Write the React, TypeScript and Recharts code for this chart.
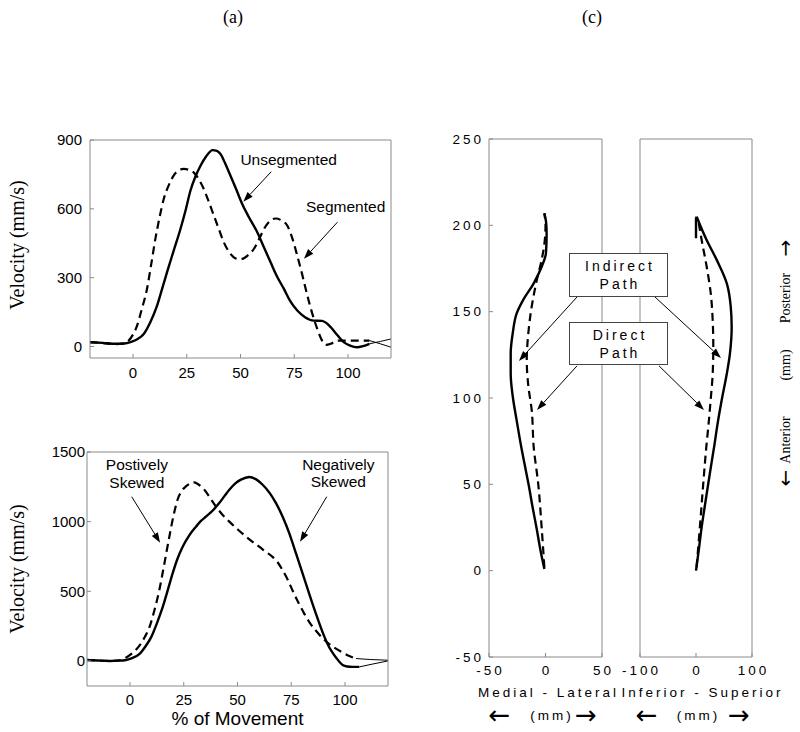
import React from "react";
import { LineChart, Line, XAxis, YAxis, ReferenceLine, ReferenceDot } from "recharts";

const SANS = "'Liberation Sans', Arial, sans-serif";
const SERIF = "'Liberation Serif', 'Times New Roman', serif";
const ARROWS = "'DejaVu Sans', sans-serif";
const AXIS = "#8a8a8a";

type Pt = [number, number];

// (a) top panel: % of movement -> velocity (mm/s)
const unsegmented: Pt[] = [
  [-20, 19], [-14, 16], [-8, 12], [-4, 13], [-1, 20], [2, 32], [5, 55], [8, 105], [11.2, 178],
  [13.5, 250], [15.8, 323], [19, 420], [22, 510], [24.5, 595], [26.7, 679], [29, 740], [31.4, 788],
  [34, 828], [37, 856], [39, 853], [40.7, 839], [43, 795], [45.3, 745], [48, 685], [50.8, 621],
  [54, 562], [57.8, 498], [61, 430], [64, 367], [67, 305], [70.2, 251], [73, 200], [76.4, 157],
  [80, 128], [84, 113], [88, 112], [90, 102], [92, 84], [95, 50], [98, 19], [101, 4], [104, -3],
  [107, 2], [110, 12],
];
const segmented: Pt[] = [
  [-20, 19], [-14, 15], [-8, 10], [-4, 14], [-2, 26], [0, 52], [1.9, 91], [4, 160], [6.5, 251],
  [8.5, 360], [10.4, 469], [12.4, 565], [14.3, 643], [16.5, 700], [18.9, 745], [21, 766], [23.6, 774],
  [26, 770], [28.2, 759], [30.5, 730], [32.9, 687], [35.2, 632], [37.6, 571], [40, 510], [42.2, 455],
  [44.5, 415], [46.9, 389], [49, 381], [50.8, 382], [53.5, 398], [56.2, 425], [58.5, 465], [60.9, 512],
  [63.5, 545], [66.3, 558], [69, 550], [71.8, 526], [74, 475], [76.4, 396], [78.8, 310], [81.1, 222],
  [83.5, 140], [85.7, 77], [87.7, 30], [89.7, 7], [92, 12], [95, 26], [102, 26], [110, 26],
];
const unsegTail: Pt[] = [[110, 12], [115, 22], [120, 33]];
const segTail: Pt[] = [[110, 26], [115, 12], [120, -3]];

// (a) bottom panel
const negSkewed: Pt[] = [
  [-20, 7], [-15, 3], [-9.6, 0], [-5, 2], [-1.9, 7], [1, 20], [4.3, 48], [7, 100], [9.8, 169],
  [12.5, 270], [15.2, 386], [17.5, 505], [19.8, 627], [22, 730], [24.5, 820], [27.5, 900], [30.7, 964],
  [33, 1005], [35.3, 1036], [38.5, 1080], [41.5, 1133], [44, 1185], [46.2, 1229], [49, 1275],
  [51.6, 1302], [55.5, 1321], [58.5, 1305], [61.7, 1265], [65, 1205], [67.9, 1133], [71, 1035],
  [74.1, 916], [77.2, 772], [80.3, 627], [83.4, 480], [86.5, 338], [89.6, 205], [92.7, 96],
  [95.8, 25], [98.9, -29], [101, -40], [103.5, -43], [106.6, -43],
];
const posSkewed: Pt[] = [
  [-20, 7], [-15, 3], [-9.6, 0], [-5, 4], [-1.9, 24], [1, 55], [4.3, 108], [7, 175], [9, 241],
  [11.3, 360], [13.6, 506], [16, 700], [18.3, 892], [20.2, 1040], [22.1, 1157], [24, 1220], [26, 1253],
  [28, 1275], [29.9, 1282], [32, 1265], [34.6, 1229], [37.3, 1170], [40, 1108], [43, 1050], [46.2, 1000],
  [50, 945], [54, 892], [57, 855], [60.1, 820], [63, 785], [66.3, 747], [68.8, 705], [71, 651],
  [73.3, 585], [75.6, 506], [78.3, 420], [81.1, 338], [83.8, 270], [86.5, 217], [89.6, 163],
  [92.7, 121], [95.8, 88], [98.9, 60], [102, 36], [105.1, 17],
];
const negTail: Pt[] = [[106.6, -43], [113, -22], [120, 0]];
const posTail: Pt[] = [[105.1, 17], [112, 10], [120, 5]];

// (c) hand paths: [medial-lateral or inferior-superior mm, anterior-posterior mm]
const mlIndirect: Pt[] = [
  [-1, 1], [-4.5, 12], [-8, 25], [-11.5, 37], [-15, 50], [-18, 60], [-21, 70], [-25.5, 87], [-29, 101],
  [-30.8, 114], [-30.8, 126], [-29, 137.5], [-25.5, 149], [-19.6, 157], [-10.8, 166], [-3.4, 176],
  [0.4, 184], [1, 195], [0.5, 202], [-1, 207],
];
const mlDirect: Pt[] = [
  [-1, 2], [-3.4, 25], [-6.4, 50], [-10.5, 72], [-12.2, 93], [-15.2, 107], [-16.6, 122], [-15.2, 137.5],
  [-12.2, 153], [-7.8, 168], [-3.4, 180], [-0.4, 193], [0, 200], [-1, 207],
];
const isIndirect: Pt[] = [
  [0, 0], [5, 12], [10.2, 25.5], [16, 38], [22, 50.6], [28, 63], [33, 73], [38, 84], [46, 99],
  [55, 114], [60.7, 126], [63.7, 141], [62, 153], [55, 166.4], [37, 180], [19, 191.5], [1.2, 205],
];
const isHook: Pt[] = [[0, 192.5], [0, 204], [1.2, 205]];
const isDirect: Pt[] = [
  [1, 2], [7, 25.5], [13, 50.6], [18.5, 72], [22, 83.4], [26.2, 99], [29.8, 114], [30.9, 130],
  [29.8, 145], [26.2, 161], [19.1, 176], [10.1, 191.5], [4, 203],
];

const pctTicks = [0, 25, 50, 75, 100];
const velTicksTop = [0, 300, 600, 900];
const velTicksBottom = [0, 500, 1000, 1500];
const apTicks = [-50, 0, 50, 100, 150, 200, 250];
const mlTicks = [-50, 0, 50];
const isTicks = [-100, 0, 100];

const rows = (pts: Pt[]) => pts.map(([x, y]) => ({ x, y }));

const arrowShape = (p: any) => {
  const { x1, y1, x2, y2 } = p;
  const a = Math.atan2(y2 - y1, x2 - x1);
  const bx = x2 - 10 * Math.cos(a);
  const by = y2 - 10 * Math.sin(a);
  const w = 3.5;
  const pts = `${x2},${y2} ${bx - w * Math.sin(a)},${by + w * Math.cos(a)} ${bx + w * Math.sin(a)},${by - w * Math.cos(a)}`;
  return (
    <g>
      <line x1={x1} y1={y1} x2={bx} y2={by} stroke="#000" strokeWidth={1} />
      <polygon points={pts} fill="#000" />
    </g>
  );
};

const note = (lines: string[]) => (p: any) => (
  <text x={p.cx} y={p.cy} textAnchor="middle" fontFamily={SANS} fontSize={15.5} fill="#000">
    {lines.map((l, i) => (
      <tspan key={i} x={p.cx} dy={i === 0 ? `${0.35 - (lines.length - 1) * 0.565}em` : "1.13em"}>
        {l}
      </tspan>
    ))}
  </text>
);

const spacedTick = (anchor: "end" | "middle") => (p: any) => (
  <text x={p.x + (anchor === "end" ? 3 : 1.5)} y={p.y} dy={anchor === "end" ? "0.35em" : "0.71em"}
    textAnchor={anchor} fontFamily={SANS} fontSize={13.5} letterSpacing={3} fill="#000">
    {p.payload.value}
  </text>
);

const mmLabel = (title: string, cx: number, pos: [number, number, number]) => (p: any) => {
  const { x, y } = p.viewBox;
  return (
    <g fill="#000">
      <text x={x + cx + 1.5} y={y + 35} textAnchor="middle" dominantBaseline="central" fontFamily={SANS}
        fontSize={13.5} letterSpacing={3}>
        {title}
      </text>
      <text x={x + pos[0]} y={y + 58} textAnchor="middle" dominantBaseline="central" fontFamily={ARROWS} fontSize={26}>←</text>
      <text x={x + pos[1] + 1.5} y={y + 58} textAnchor="middle" dominantBaseline="central" fontFamily={SANS}
        fontSize={13.5} letterSpacing={3}>
        (mm)
      </text>
      <text x={x + pos[2]} y={y + 58} textAnchor="middle" dominantBaseline="central" fontFamily={ARROWS} fontSize={26}>→</text>
    </g>
  );
};

const apLabel = (p: any) => {
  const { x, y } = p.viewBox;
  const cx = x + 33;
  const parts: [string, number, string, number][] = [
    ["→", 109, ARROWS, 20], ["Posterior", 159, SERIF, 14], ["(mm)", 226, SERIF, 14],
    ["Anterior", 301, SERIF, 14], ["←", 339, ARROWS, 20],
  ];
  return (
    <g fill="#000">
      {parts.map(([t, dy, ff, fs]) => (
        <text key={t} x={cx} y={y + dy} fontFamily={ff} fontSize={fs} textAnchor="middle" dominantBaseline="central"
          transform={`rotate(-90 ${cx} ${y + dy})`}>
          {t}
        </text>
      ))}
    </g>
  );
};

const velTick = { fontSize: 15, fill: "#000", fontFamily: SANS };

function solid(pts: Pt[], type: any = "monotone") {
  return <Line data={rows(pts)} dataKey="y" type={type} stroke="#000" strokeWidth={2.4} dot={false} isAnimationActive={false} />;
}
function dashed(pts: Pt[], type: any = "monotone") {
  return (
    <Line data={rows(pts)} dataKey="y" type={type} stroke="#000" strokeWidth={2.2} strokeDasharray="8 5"
      dot={false} isAnimationActive={false} />
  );
}
function thin(pts: Pt[]) {
  return <Line data={rows(pts)} dataKey="y" type="linear" stroke="#000" strokeWidth={1} dot={false} isAnimationActive={false} />;
}

function TopVelocity() {
  return (
    <LineChart width={400} height={280} margin={{ top: 19, right: 0, bottom: 0, left: 0 }}>
      <XAxis dataKey="x" type="number" domain={[-20, 120]} ticks={pctTicks} allowDataOverflow height={42}
        stroke={AXIS} tickSize={-4} tickMargin={13} tick={velTick} />
      <XAxis xAxisId="t" orientation="top" dataKey="x" type="number" domain={[-20, 120]} ticks={pctTicks}
        height={1} stroke={AXIS} tickSize={-4} tick={false} />
      <YAxis type="number" domain={[-50, 900]} ticks={velTicksTop} allowDataOverflow width={90}
        stroke={AXIS} tickSize={-4} tickMargin={12} tick={velTick} />
      <YAxis yAxisId="r" orientation="right" type="number" domain={[-50, 900]} ticks={velTicksTop} width={9}
        stroke={AXIS} tickSize={-4} tick={false} />
      {dashed(segmented)}
      {solid(unsegmented)}
      {thin(unsegTail)}
      {thin(segTail)}
      <ReferenceLine segment={[{ x: 64.3, y: 762 }, { x: 51.3, y: 631 }]} shape={arrowShape} ifOverflow="visible" />
      <ReferenceLine segment={[{ x: 95.1, y: 542 }, { x: 79.5, y: 382 }]} shape={arrowShape} ifOverflow="visible" />
      <ReferenceDot x={72.4} y={814} r={1} shape={note(["Unsegmented"])} ifOverflow="visible" />
      <ReferenceDot x={98.9} y={611} r={1} shape={note(["Segmented"])} ifOverflow="visible" />
    </LineChart>
  );
}

function BottomVelocity() {
  return (
    <LineChart width={400} height={292} margin={{ top: 11, right: 0, bottom: 0, left: 0 }}>
      <XAxis dataKey="x" type="number" domain={[-20, 120]} ticks={pctTicks} allowDataOverflow height={46}
        stroke={AXIS} tickSize={-4} tickMargin={12} tick={velTick}
        label={(p: any) => (
          <text x={p.viewBox.x + p.viewBox.width / 2} y={p.viewBox.y + 39} textAnchor="middle"
            fontFamily={SANS} fontSize={19} fill="#000">
            % of Movement
          </text>
        )} />
      <XAxis xAxisId="t" orientation="top" dataKey="x" type="number" domain={[-20, 120]} ticks={pctTicks}
        height={1} stroke={AXIS} tickSize={-4} tick={false} />
      <YAxis type="number" domain={[-180, 1500]} ticks={velTicksBottom} allowDataOverflow width={87}
        stroke={AXIS} tickSize={-4} tickMargin={6} tick={velTick} />
      <YAxis yAxisId="r" orientation="right" type="number" domain={[-180, 1500]} ticks={velTicksBottom} width={12}
        stroke={AXIS} tickSize={-4} tick={false} />
      {dashed(posSkewed)}
      {solid(negSkewed)}
      {thin(negTail)}
      {thin(posTail)}
      <ReferenceLine segment={[{ x: 0.8, y: 1179 }, { x: 14, y: 849 }]} shape={arrowShape} ifOverflow="visible" />
      <ReferenceLine segment={[{ x: 91.5, y: 1179 }, { x: 79.1, y: 856 }]} shape={arrowShape} ifOverflow="visible" />
      <ReferenceDot x={3.2} y={1344} r={1} shape={note(["Postively", "Skewed"])} ifOverflow="visible" />
      <ReferenceDot x={96.9} y={1347} r={1} shape={note(["Negatively", "Skewed"])} ifOverflow="visible" />
    </LineChart>
  );
}

function MedialLateral() {
  return (
    <LineChart width={240} height={612} margin={{ top: 18, right: 0, bottom: 0, left: 0 }}>
      <XAxis dataKey="x" type="number" domain={[-50, 50]} ticks={mlTicks} allowDataOverflow height={75}
        stroke={AXIS} tickSize={-4} tickMargin={12} tick={spacedTick("middle")}
        label={mmLabel("Medial - Lateral", 58, [10.5, 61.5, 97])} />
      <XAxis xAxisId="t" orientation="top" dataKey="x" type="number" domain={[-50, 50]} ticks={mlTicks}
        height={1} stroke={AXIS} tickSize={-4} tick={false} />
      <YAxis type="number" domain={[-50, 250]} ticks={apTicks} allowDataOverflow width={89}
        stroke={AXIS} tickSize={-4} tickMargin={12} tick={spacedTick("end")} />
      <YAxis yAxisId="r" orientation="right" type="number" domain={[-50, 250]} ticks={apTicks} width={38}
        stroke={AXIS} tickSize={-4} tick={false} />
      {dashed(mlDirect, "monotoneY")}
      {solid(mlIndirect, "monotoneY")}
      <ReferenceLine segment={[{ x: 27.9, y: 158.5 }, { x: -23.5, y: 121.5 }]} shape={arrowShape} ifOverflow="visible" />
      <ReferenceLine segment={[{ x: 27.9, y: 118.6 }, { x: -7.5, y: 93.1 }]} shape={arrowShape} ifOverflow="visible" />
    </LineChart>
  );
}

function InferiorSuperior() {
  return (
    <LineChart width={180} height={612} margin={{ top: 18, right: 0, bottom: 0, left: 0 }}>
      <XAxis dataKey="x" type="number" domain={[-100, 100]} ticks={isTicks} allowDataOverflow height={75}
        stroke={AXIS} tickSize={-4} tickMargin={12} tick={spacedTick("middle")}
        label={mmLabel("Inferior - Superior", 61, [6.7, 57, 99])} />
      <XAxis xAxisId="t" orientation="top" dataKey="x" type="number" domain={[-100, 100]} ticks={isTicks}
        height={1} stroke={AXIS} tickSize={-4} tick={false} />
      <YAxis type="number" domain={[-50, 250]} ticks={apTicks} allowDataOverflow width={20}
        stroke={AXIS} tickSize={-4} tick={false} />
      <YAxis yAxisId="r" orientation="right" type="number" domain={[-50, 250]} ticks={apTicks} width={48}
        stroke={AXIS} tickSize={-4} tick={false} label={apLabel} />
      {dashed(isDirect, "monotoneY")}
      {solid(isIndirect, "monotoneY")}
      {solid(isHook, "linear")}
      <ReferenceLine segment={[{ x: -73.2, y: 158.5 }, { x: 44.6, y: 123.2 }]} shape={arrowShape} ifOverflow="visible" />
      <ReferenceLine segment={[{ x: -66, y: 118.6 }, { x: 14.3, y: 93.1 }]} shape={arrowShape} ifOverflow="visible" />
    </LineChart>
  );
}

const title = (cx: number): React.CSSProperties => ({
  position: "absolute", left: cx - 20, top: 7, width: 40, lineHeight: "20px", textAlign: "center",
  fontFamily: SERIF, fontSize: 18, color: "#000",
});

function VelocityTitle({ cy }: { cy: number }) {
  return (
    <div style={{
      position: "absolute", left: 17, top: cy, transform: "translate(-50%, -50%) rotate(-90deg)",
      whiteSpace: "nowrap", fontFamily: SERIF, fontSize: 20, lineHeight: "22px", color: "#000", zIndex: 4,
    }}>
      Velocity (mm/s)
    </div>
  );
}

function PathBox({ top, height, lines }: { top: number; height: number; lines: string[] }) {
  return (
    <div style={{
      position: "absolute", left: 569, top, width: 99, height, boxSizing: "border-box",
      border: "1px solid #444", background: "#fff", zIndex: 5, display: "flex", flexDirection: "column",
      justifyContent: "center", alignItems: "center", fontFamily: SANS, fontSize: 14, letterSpacing: 3,
      lineHeight: "18px", paddingLeft: 3, color: "#000",
    }}>
      {lines.map((l) => <div key={l}>{l}</div>)}
    </div>
  );
}

export default function App() {
  return (
    <div style={{ position: "absolute", left: 0, top: 0, width: 800, height: 732, background: "#fff", overflow: "hidden" }}>
      <div style={title(233)}>(a)</div>
      <div style={title(592)}>(c)</div>
      <div style={{ position: "absolute", left: 0, top: 120 }}><TopVelocity /></div>
      <div style={{ position: "absolute", left: 0, top: 440 }}><BottomVelocity /></div>
      <div style={{ position: "absolute", left: 620, top: 120 }}><InferiorSuperior /></div>
      <div style={{ position: "absolute", left: 400, top: 120 }}><MedialLateral /></div>
      <VelocityTitle cy={245} />
      <VelocityTitle cy={569} />
      <PathBox top={253} height={44} lines={["Indirect", "Path"]} />
      <PathBox top={322} height={43} lines={["Direct", "Path"]} />
    </div>
  );
}
